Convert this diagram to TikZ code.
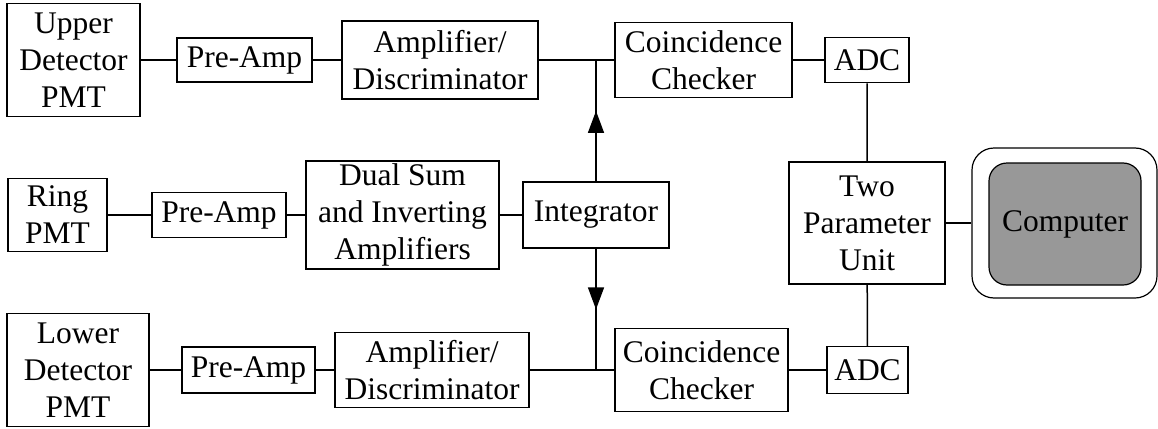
\documentclass[tikz,border=0pt]{standalone}
\usepackage{fontspec}
\setmainfont{Liberation Serif}
\usepackage{xcolor}
\usetikzlibrary{arrows.meta, positioning, decorations.markings}

\definecolor{compgray}{RGB}{152,152,152}

\begin{document}
\begin{tikzpicture}[x=1pt, y=-1pt, line width=1.5pt,
    font=\fontsize{31.5}{37}\selectfont]
  \tikzstyle{block} = [rectangle, draw, align=center, inner sep=0pt]
  \tikzstyle{midarrow} = [postaction={decorate}, decoration={markings,
      mark=at position #1 with {\arrow{Triangle[width=16pt,length=22pt]}}}]

  \useasboundingbox (0,0) rectangle (1158,428);

  % upper channel
  \node[block, minimum width=133pt, minimum height=113pt] (uPMT) at (73.5,60) {Upper\\Detector\\PMT};
  \node[block, minimum width=135pt, minimum height=44pt] (uPre) at (244.5,60) {Pre-Amp};
  \node[block, minimum width=196pt, minimum height=78pt] (uAmp) at (440,60) {Amplifier/\\Discriminator};
  \node[block, minimum width=177pt, minimum height=75pt] (uCoin) at (703.5,60) {Coincidence\\Checker};
  \node[block, minimum width=84pt, minimum height=45pt] (uADC) at (867,60) {ADC};
  \coordinate (uJ) at (596,60);

  % ring channel
  \node[block, minimum width=99pt, minimum height=73pt] (rPMT) at (57.5,215) {Ring\\PMT};
  \node[block, minimum width=134pt, minimum height=45pt] (rPre) at (219,215) {Pre-Amp};
  \node[block, minimum width=193pt, minimum height=108pt] (dual) at (402.5,215) {Dual Sum\\and Inverting\\Amplifiers};
  \node[block, minimum width=146pt, minimum height=66pt] (integ) at (596,215) {Integrator};

  % lower channel
  \node[block, minimum width=142pt, minimum height=113pt] (lPMT) at (78,370) {Lower\\Detector\\PMT};
  \node[block, minimum width=133pt, minimum height=46pt] (lPre) at (248.5,370) {Pre-Amp};
  \node[block, minimum width=194pt, minimum height=75pt] (lAmp) at (432,370) {Amplifier/\\Discriminator};
  \node[block, minimum width=173pt, minimum height=83pt] (lCoin) at (701.5,370) {Coincidence\\Checker};
  \node[block, minimum width=81pt, minimum height=47pt] (lADC) at (867.5,370) {ADC};
  \coordinate (lJ) at (596,370);

  % output side
  \node[block, minimum width=156pt, minimum height=122pt] (tpu) at (867,223) {Two\\Parameter\\Unit};
  \node[block, line width=1.2pt, rounded corners=22pt, minimum width=185pt, minimum height=150pt] (frame) at (1064.5,223) {};
  \node[block, line width=1.2pt, rounded corners=18pt, fill=compgray, minimum width=152pt, minimum height=122pt] (comp) at (1065,224) {Computer};

  \draw (uPMT) -- (uPre) -- (uAmp) -- (uJ) -- (uCoin) -- (uADC);
  \draw (rPMT) -- (rPre) -- (dual) -- (integ);
  \draw (lPMT) -- (lPre) -- (lAmp) -- (lJ) -- (lCoin) -- (lADC);
  \draw[midarrow=0.58] (integ) -- (uJ);
  \draw[midarrow=0.5] (integ) -- (lJ);
  \draw (uADC) -- (tpu) -- (lADC);
  \draw (tpu) -- (tpu -| frame.west);
\end{tikzpicture}
\end{document}
